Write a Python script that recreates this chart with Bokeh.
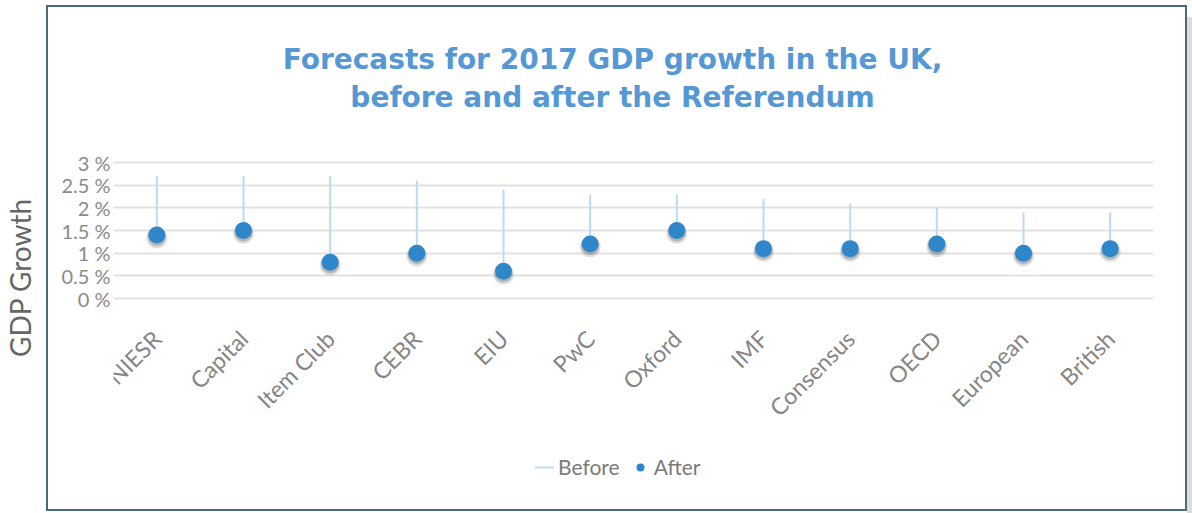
from math import pi
from bokeh.plotting import figure
from bokeh.models import (ColumnDataSource, Range1d, FactorRange, FixedTicker, Legend,
                          LegendItem, Label, InlineStyleSheet)
from bokeh.transform import dodge
from bokeh.embed import file_html
from bokeh.resources import INLINE

# ---- data ----
forecasters = ["NIESR", "Capital", "Item Club", "CEBR", "EIU", "PwC", "Oxford",
               "IMF", "Consensus", "OECD", "European", "British"]
before = [2.7, 2.7, 2.7, 2.6, 2.4, 2.3, 2.3, 2.2, 2.1, 2.0, 1.9, 1.9]
after = [1.4, 1.5, 0.8, 1.0, 0.6, 1.2, 1.5, 1.1, 1.1, 1.2, 1.0, 1.1]
y_ticks = [0, 0.5, 1, 1.5, 2, 2.5, 3]
y_tick_labels = ["0 %", "0.5 %", "1 %", "1.5 %", "2 %", "2.5 %", "3 %"]
title_lines = ["Forecasts for 2017 GDP growth in the UK,",
               "before and after the Referendum"]
y_title = "GDP Growth"

# ---- layout (pixels) ----
W, H = 1192, 513
FL, FR = 113, 1153          # frame left / right
FT = 41                     # frame top (frame runs to the canvas bottom)
Y0, Y3 = 298, 162           # pixel rows of 0 % and 3 %
ppu = (Y0 - Y3) / 3.0       # pixels per percentage point
y_lo = -(H - Y0) / ppu
y_hi = 3 + (Y3 - FT) / ppu

src = ColumnDataSource(dict(f=forecasters, before=before, after=after))

css = """
:host { position: relative; }
:host::before { content: ""; position: absolute; left: 46px; top: 5px;
  width: 1141px; height: 506px; border: 2.5px solid #4b6a7c; box-sizing: border-box;
  pointer-events: none; z-index: 5; }
:host::after { content: ""; position: absolute; left: 1187px; top: 17px;
  width: 5px; height: 496px; background: #dcdcdc; pointer-events: none; z-index: 5; }
"""

p = figure(width=W, height=H, x_range=FactorRange(*forecasters, range_padding=0),
           y_range=Range1d(y_lo, y_hi), output_backend="svg", toolbar_location=None,
           min_border_left=FL, min_border_right=W - FR,
           min_border_top=FT, min_border_bottom=0, title=None)
p.stylesheets = [InlineStyleSheet(css=css)]
p.background_fill_color = "white"
p.border_fill_color = "white"
p.outline_line_color = None

# y axis
p.yaxis.ticker = FixedTicker(ticks=y_ticks)
p.yaxis.major_label_overrides = {t: l for t, l in zip(y_ticks, y_tick_labels)}
p.yaxis.axis_line_color = None
p.yaxis.major_tick_line_color = None
p.yaxis.minor_tick_line_color = None
p.yaxis.major_label_standoff = -3
p.yaxis.major_label_text_font = "Lato"
p.yaxis.major_label_text_font_size = "20px"
p.yaxis.major_label_text_color = "#8a8a8a"
p.yaxis.axis_label = y_title
p.yaxis.axis_label_standoff = 21
p.yaxis.axis_label_text_font = "Lato"
p.yaxis.axis_label_text_font_style = "normal"
p.yaxis.axis_label_text_font_size = "28px"
p.yaxis.axis_label_text_color = "#666666"

# x axis, pinned at 0 %
p.xaxis.fixed_location = 0
p.xaxis.axis_line_color = None
p.xaxis.major_tick_line_color = None
p.xaxis.minor_tick_line_color = None
p.xaxis.major_label_orientation = pi / 4
p.xaxis.major_label_standoff = 30
p.xaxis.major_label_text_font = "Lato"
p.xaxis.major_label_text_font_size = "23px"
p.xaxis.major_label_text_color = "#858585"

p.xgrid.grid_line_color = None
p.ygrid.grid_line_color = "#e2e2e2"
p.ygrid.grid_line_width = 2

# marks
seg = p.segment(x0="f", y0="after", x1="f", y1="before", source=src,
                line_color="#bcdaf2", line_width=2)
p.scatter(x="f", y=dodge("after", -0.06, range=p.y_range), source=src, size=21,
          fill_color="#6a6a6a", fill_alpha=0.22, line_color=None)
p.scatter(x="f", y=dodge("after", -0.045, range=p.y_range), source=src, size=18,
          fill_color="#5a5a5a", fill_alpha=0.3, line_color=None)
dots = p.scatter(x="f", y="after", source=src, size=17,
                 fill_color="#2f86c9", line_color=None)

legend = Legend(items=[LegendItem(label="Before", renderers=[seg]),
                       LegendItem(label="After", renderers=[dots])],
                orientation="horizontal", location=(421, 34),
                border_line_color=None, background_fill_alpha=0,
                label_text_font="Lato", label_text_font_size="21px",
                label_text_color="#7a7a7a", glyph_width=20, glyph_height=20,
                label_standoff=4, spacing=10, padding=0, margin=0)
p.add_layout(legend, "center")

# title lines, inside the frame
for i, line in enumerate(title_lines):
    p.add_layout(Label(x=612 - FL, y=H - (59 + 38 * i), x_units="screen",
                       y_units="screen", text=line, text_align="center",
                       text_baseline="middle", text_font="DejaVu Sans",
                       text_font_style="bold", text_font_size="28px",
                       text_color="#5598d5"))

open("out.html", "w").write(file_html(p, INLINE))
